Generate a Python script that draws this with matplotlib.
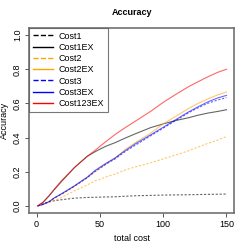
import matplotlib
matplotlib.use("Agg")
import matplotlib.pyplot as plt

plt.rcParams['font.family'] = ['Liberation Sans', 'DejaVu Sans']

cost = [1, 5, 10, 14, 20, 30, 40, 46, 50, 55, 62, 70, 78, 90, 100, 110, 120, 127, 135, 143, 150]

cost1 = [0.0, 0.012, 0.025, 0.03, 0.036, 0.045, 0.049, 0.05, 0.051, 0.052, 0.053, 0.056, 0.059, 0.061, 0.063, 0.064, 0.065, 0.066, 0.067, 0.068, 0.069]
cost1ex = [0.0, 0.02, 0.06, 0.095, 0.145, 0.225, 0.29, 0.316, 0.332, 0.35, 0.37, 0.397, 0.422, 0.458, 0.48, 0.50, 0.516, 0.53, 0.543, 0.553, 0.563]
cost2 = [0.0, 0.008, 0.02, 0.03, 0.05, 0.088, 0.122, 0.147, 0.155, 0.17, 0.186, 0.21, 0.228, 0.252, 0.275, 0.298, 0.322, 0.343, 0.365, 0.385, 0.406]
cost2ex = [0.0, 0.008, 0.025, 0.045, 0.07, 0.115, 0.165, 0.2, 0.22, 0.245, 0.28, 0.33, 0.37, 0.425, 0.48, 0.525, 0.57, 0.598, 0.625, 0.65, 0.667]
cost3 = [0.0, 0.008, 0.025, 0.045, 0.07, 0.115, 0.165, 0.2, 0.22, 0.245, 0.275, 0.318, 0.355, 0.41, 0.455, 0.5, 0.545, 0.572, 0.6, 0.62, 0.634]
cost3ex = [0.0, 0.008, 0.025, 0.047, 0.072, 0.118, 0.168, 0.206, 0.226, 0.25, 0.28, 0.323, 0.363, 0.415, 0.46, 0.505, 0.55, 0.578, 0.608, 0.632, 0.647]
cost123ex = [0.0, 0.02, 0.06, 0.098, 0.15, 0.225, 0.29, 0.324, 0.348, 0.378, 0.418, 0.458, 0.496, 0.553, 0.606, 0.653, 0.698, 0.725, 0.755, 0.782, 0.80]

names = ['Cost1', 'Cost1EX', 'Cost2', 'Cost2EX', 'Cost3', 'Cost3EX', 'Cost123EX']
series = [cost1, cost1ex, cost2, cost2ex, cost3, cost3ex, cost123ex]
colors = ['black', 'black', 'orange', 'orange', 'blue', 'blue', 'red']
styles = ['--', '-', '--', '-', '--', '-', '-']

fig = plt.figure(figsize=(2.49, 2.49), dpi=100)
ax = fig.add_axes([0.1165, 0.1446, 0.8235, 0.743])

for vals, c, ls in zip(series, colors, styles):
    ax.plot(cost, vals, color=c, linestyle=ls, linewidth=0.8, alpha=0.6,
            dashes=(2, 1.5) if ls == '--' else (None, None))

# legend handles at full colour
handles = []
for name, c, ls in zip(names, colors, styles):
    h, = ax.plot([], [], color=c, linestyle=ls, linewidth=1.0, label=name)
    handles.append(h)

leg = ax.legend(handles=handles, loc='upper left', fontsize=6.5, frameon=True,
                fancybox=False, borderaxespad=0, handlelength=2.3,
                handletextpad=0.6, labelspacing=0.25, borderpad=0.4)
leg.get_frame().set_edgecolor('#555555')
leg.get_frame().set_linewidth(0.8)

ax.set_xlim(-6, 156)
ax.set_ylim(-0.042, 1.042)
ax.set_xticks([0, 50, 100, 150])
ax.set_yticks([0.0, 0.2, 0.4, 0.6, 0.8, 1.0])
ax.set_yticklabels(['0.0', '0.2', '0.4', '0.6', '0.8', '1.0'], rotation=90, va='center')
ax.tick_params(labelsize=6.5, length=3, width=0.7, color='#555555', pad=2)
for s in ax.spines.values():
    s.set_color('#666666')
    s.set_linewidth(1.1)

ax.set_title('Accuracy', fontsize=6.5, fontweight='bold', pad=9)
ax.set_xlabel('total cost', fontsize=6.5, labelpad=4)
ax.set_ylabel('Accuracy', fontsize=6.5, labelpad=3)

fig.savefig('out.png', dpi=100)
